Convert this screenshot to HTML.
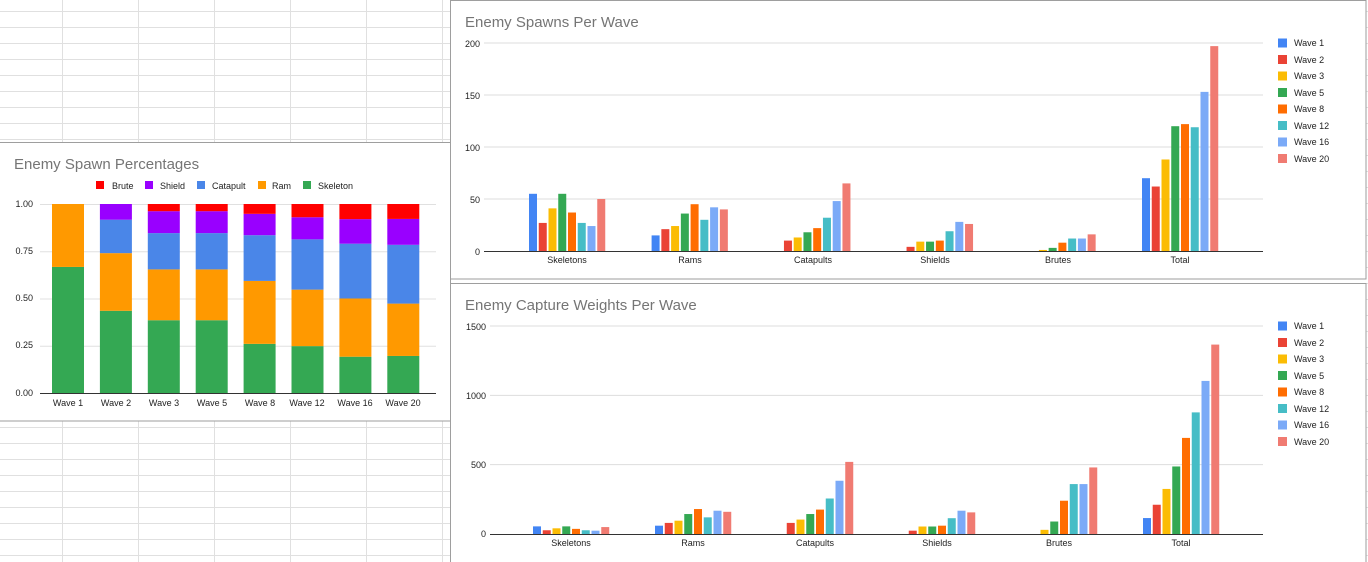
<!DOCTYPE html>
<html><head><meta charset="utf-8"><style>
html,body{margin:0;padding:0;background:#fff;}
svg{display:block;font-family:"Liberation Sans",Arial,sans-serif;}
.t{fill:#757575;font-size:15px;}
.k{fill:#222;font-size:9px;}
.l{fill:#222;font-size:9px;}
</style></head><body>
<svg id="s" width="1368" height="562" viewBox="0 0 1368 562" xmlns="http://www.w3.org/2000/svg">
<g id="grid" stroke="#e0e0e0" stroke-width="1"></g>
<!-- left chart box -->
<rect x="-1" y="142.5" width="451.5" height="278.5" fill="#fff" stroke="#9e9e9e"/>
<!-- top chart box -->
<rect x="450.5" y="0.5" width="915.5" height="278.5" fill="#fff" stroke="#9e9e9e"/>
<!-- bottom chart box -->
<rect x="450.5" y="283.5" width="915.5" height="285" fill="#fff" stroke="#9e9e9e"/>
<g id="bars"></g>

<!-- Left chart text -->
<text class="t" x="14" y="169">Enemy Spawn Percentages</text>
<g class="l">
<rect x="96" y="181" width="8" height="8" fill="#ff0000"/><text x="112" y="189">Brute</text>
<rect x="145" y="181" width="8" height="8" fill="#9900ff"/><text x="160" y="189">Shield</text>
<rect x="197" y="181" width="8" height="8" fill="#4a86e8"/><text x="212" y="189">Catapult</text>
<rect x="258" y="181" width="8" height="8" fill="#ff9900"/><text x="272" y="189">Ram</text>
<rect x="303" y="181" width="8" height="8" fill="#34a853"/><text x="318" y="189">Skeleton</text>
</g>
<g class="k" text-anchor="end">
<text x="33" y="207">1.00</text><text x="33" y="254">0.75</text><text x="33" y="301">0.50</text><text x="33" y="348">0.25</text><text x="33" y="396">0.00</text>
</g>
<g class="k" text-anchor="middle">
<text x="68" y="406">Wave 1</text><text x="116" y="406">Wave 2</text><text x="164" y="406">Wave 3</text><text x="212" y="406">Wave 5</text><text x="260" y="406">Wave 8</text><text x="307" y="406">Wave 12</text><text x="355" y="406">Wave 16</text><text x="403" y="406">Wave 20</text>
</g>

<!-- Top chart text -->
<text class="t" x="465" y="27">Enemy Spawns Per Wave</text>
<g class="k" text-anchor="end">
<text x="480" y="47">200</text><text x="480" y="99">150</text><text x="480" y="151">100</text><text x="480" y="203">50</text><text x="480" y="255">0</text>
</g>
<g class="k" text-anchor="middle">
<text x="567" y="263">Skeletons</text><text x="690" y="263">Rams</text><text x="813" y="263">Catapults</text><text x="935" y="263">Shields</text><text x="1058" y="263">Brutes</text><text x="1180" y="263">Total</text>
</g>
<g class="l" id="leg1">
<text x="1294" y="46">Wave 1</text><text x="1294" y="63">Wave 2</text><text x="1294" y="79">Wave 3</text><text x="1294" y="96">Wave 5</text><text x="1294" y="112">Wave 8</text><text x="1294" y="129">Wave 12</text><text x="1294" y="145">Wave 16</text><text x="1294" y="162">Wave 20</text>
</g>

<!-- Bottom chart text -->
<text class="t" x="465" y="310">Enemy Capture Weights Per Wave</text>
<g class="k" text-anchor="end">
<text x="486" y="330">1500</text><text x="486" y="399">1000</text><text x="486" y="468">500</text><text x="486" y="537">0</text>
</g>
<g class="k" text-anchor="middle">
<text x="571" y="546">Skeletons</text><text x="693" y="546">Rams</text><text x="815" y="546">Catapults</text><text x="937" y="546">Shields</text><text x="1059" y="546">Brutes</text><text x="1181" y="546">Total</text>
</g>
<g class="l">
<text x="1294" y="329">Wave 1</text><text x="1294" y="346">Wave 2</text><text x="1294" y="362">Wave 3</text><text x="1294" y="379">Wave 5</text><text x="1294" y="395">Wave 8</text><text x="1294" y="412">Wave 12</text><text x="1294" y="428">Wave 16</text><text x="1294" y="445">Wave 20</text>
</g>
</svg>
<script>
(function(){
var NS="http://www.w3.org/2000/svg";
function el(p,n,a){var e=document.createElementNS(NS,n);for(var k in a)e.setAttribute(k,a[k]);p.appendChild(e);return e;}
var g=document.getElementById('grid');
for(var y=11;y<562;y+=16){el(g,'line',{x1:0,x2:1368,y1:y+.5,y2:y+.5});}
[62,138,214,290,366,442].forEach(function(x){el(g,'line',{x1:x+.5,x2:x+.5,y1:0,y2:562});});
var b=document.getElementById('bars');
var C=['#4285f4','#ea4335','#fbbc04','#34a853','#ff6d01','#46bdc6','#7baaf7','#f07b72'];
// left stacked
var tops=[[.667,1,1,1,1],[.435,.74,.917,1,1],[.385,.654,.846,.962,1],[.385,.654,.846,.962,1],[.26,.593,.835,.948,1],[.248,.547,.813,.93,1],[.192,.5,.79,.92,1],[.196,.473,.784,.921,1]];
var LC=['#34a853','#ff9900','#4a86e8','#9900ff','#ff0000'];
[204,251.25,298.5,345.75].forEach(function(y){el(b,'line',{x1:40,x2:436,y1:y+.5,y2:y+.5,stroke:'#e0e0e0'});});
var y0=393,h=189;
tops.forEach(function(t,i){var cx=68+i*47.9,prev=0;for(var j=0;j<5;j++){if(t[j]>prev){el(b,'rect',{x:cx-16,y:y0-t[j]*h,width:32,height:(t[j]-prev)*h,fill:LC[j]});}prev=t[j];}});
el(b,'line',{x1:40,x2:436,y1:393.5,y2:393.5,stroke:'#333'});
// legend squares
function leg(y){for(var i=0;i<8;i++)el(b,'rect',{x:1278,y:y+i*16.5-4.5,width:9,height:9,fill:C[i]});}
leg(43);leg(326);
// grouped
function grouped(data,c0,pitch,base,top,max,ticks,x1){
 ticks.forEach(function(v){var y=base-(v/max)*(base-top);el(b,'line',{x1:x1,x2:1263,y1:y,y2:y,stroke:'#ddd'});});
 data.forEach(function(grp,gi){var cx=c0+gi*pitch;grp.forEach(function(v,i){if(v<=0)return;var hh=v/max*(base-top);el(b,'rect',{x:cx-38+i*9.75,y:base-hh,width:8,height:hh,fill:C[i]});});});
 el(b,'line',{x1:x1,x2:1263,y1:base+.5,y2:base+.5,stroke:'#333'});
}
var sp=[[55,27,41,55,37,27,24,50],[15,21,24,36,45,30,42,40],[0,10,13,18,22,32,48,65],[0,4,9,9,10,19,28,26],[0,0,1,3,8,12,12,16],[70,62,88,120,122,119,153,197]];
grouped(sp,567,122.6,251,43,200,[200,150,100,50],484);
var cw=[[55,27,41,55,37,27,24,50],[60,80,96,144,180,120,168,160],[0,80,104,144,176,256,384,520],[0,24,54,54,60,114,168,156],[0,0,30,90,240,360,360,480],[115,211,325,487,693,877,1104,1366]];
grouped(cw,571,122,534,326,1500,[1500,1000,500],490);
})();
</script>
</body></html>
